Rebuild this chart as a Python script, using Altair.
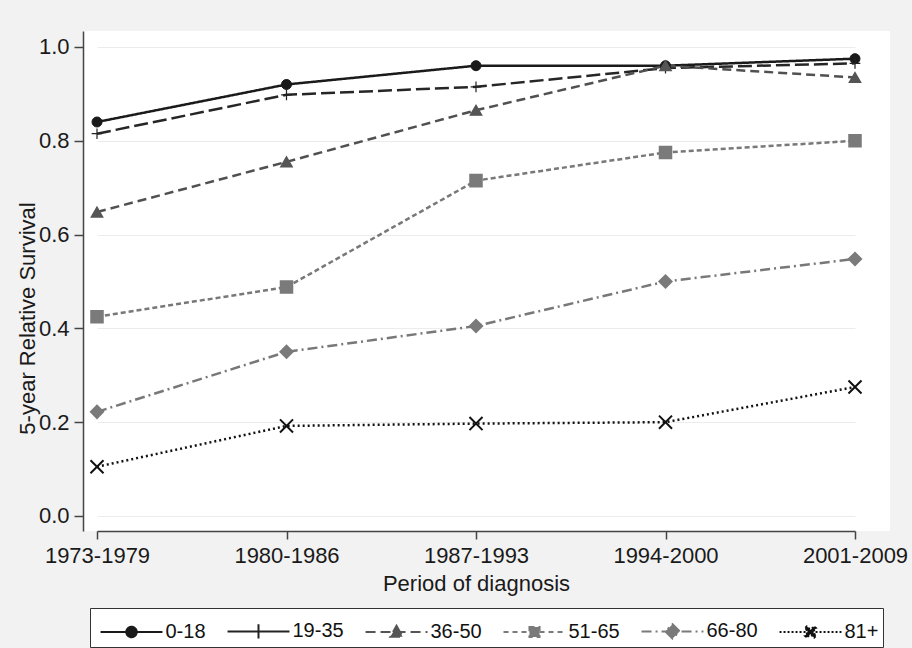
import altair as alt
import pandas as pd

periods = ["1973-1979", "1980-1986", "1987-1993", "1994-2000", "2001-2009"]
groups = ["0-18", "19-35", "36-50", "51-65", "66-80", "81+"]

s_0_18 = [0.840, 0.920, 0.960, 0.960, 0.975]
s_19_35 = [0.815, 0.898, 0.915, 0.955, 0.965]
s_36_50 = [0.648, 0.755, 0.865, 0.960, 0.935]
s_51_65 = [0.425, 0.488, 0.715, 0.775, 0.800]
s_66_80 = [0.222, 0.350, 0.405, 0.500, 0.548]
s_81 = [0.105, 0.192, 0.197, 0.200, 0.275]

series = [s_0_18, s_19_35, s_36_50, s_51_65, s_66_80, s_81]

rows = []
for g, vals in zip(groups, series):
    for p, v in zip(periods, vals):
        rows.append({"period": p, "group": g, "value": v})
df = pd.DataFrame(rows)

FONT = "Liberation Sans"

line_colors = ["#1a1a1a", "#262626", "#505050", "#787878", "#787878", "#111111"]
dashes = [[1, 0], [14, 5], [9, 5], [5, 3], [10, 4, 2, 4], [2, 3]]
shapes = ["circle", "M-1,0H1M0,-1V1", "triangle-up", "square", "diamond",
          "M-1,-1L1,1M-1,1L1,-1"]
fills = ["#1a1a1a", "transparent", "#555555", "#7a7a7a", "#7a7a7a", "transparent"]
strokes = ["#1a1a1a", "#222222", "#555555", "#7a7a7a", "#7a7a7a", "#111111"]
sizes = [100, 170, 120, 130, 190, 70]
swidths = [1, 2, 1, 1, 1, 2.2]

# legend symbol paths: line sample plus marker (unit = 18 px)
L = 1.72
a, d = 0.26, 0.055
xpoly = (f"M{-a+d},{-a-d}L{-a-d},{-a+d}L{a-d},{a+d}L{a+d},{a-d}Z"
         f"M{-a-d},{a-d}L{-a+d},{a+d}L{a+d},{-a+d}L{a-d},{-a-d}Z")
seg = f"M{-L},0H{L}"
leg_paths = [
    seg + "M0.29,0A0.29,0.29,0,1,1,-0.29,0A0.29,0.29,0,1,1,0.29,0Z",
    seg + "M0,-0.4V0.4",
    seg + "M0,-0.34L0.34,0.26L-0.34,0.26Z",
    seg + "M-0.28,-0.28H0.28V0.28H-0.28Z",
    seg + "M0,-0.4L0.4,0L0,0.4L-0.4,0Z",
    seg + xpoly,
]
leg_fills = ["#1a1a1a", "#222222", "#555555", "#7a7a7a", "#7a7a7a", "#111111"]
leg_dashes = [[1, 0], [1, 0], [10, 5], [5, 4], [10, 4, 2, 4], [2, 2]]

legend = alt.Legend(
    title=None,
    orient="none",
    legendX=7,
    legendY=577,
    direction="horizontal",
    columns=6,
    symbolSize=1296,
    symbolOffset=18.5,
    symbolStrokeWidth=2,
    labelFontSize=20,
    labelFont=FONT,
    labelColor="#111111",
    labelOffset=15,
    columnPadding=15,
    padding=4,
    strokeColor="#333333",
    fillColor="white",
)

x_enc = alt.X(
    "period:O",
    sort=periods,
    scale=alt.Scale(type="point", range=[14, 772], padding=0),
    axis=alt.Axis(
        title="Period of diagnosis",
        labelAngle=0,
        labelFontSize=22,
        labelFont=FONT,
        labelBaseline="top",
        labelPadding=6,
        tickSize=8,
        titleFontSize=22,
        titleFont=FONT,
        titleFontWeight="normal",
        titleBaseline="alphabetic",
        titleY=59,
        grid=False,
    ),
)
y_enc = alt.Y(
    "value:Q",
    scale=alt.Scale(domain=[-0.032, 1.034], nice=False, zero=False),
    axis=alt.Axis(
        title="5-year Relative Survival",
        values=[0, 0.2, 0.4, 0.6, 0.8, 1.0],
        format=".1f",
        labelFontSize=22,
        labelFont=FONT,
        labelPadding=5,
        tickSize=9,
        titleFontSize=22,
        titleFont=FONT,
        titleFontWeight="normal",
        titleBaseline="middle",
        titleX=-56,
        titleY=287,
        grid=True,
        gridColor="#ececec",
        gridWidth=1,
    ),
)

lines = alt.Chart(df).mark_line(strokeWidth=2.5, strokeCap="butt").encode(
    x=x_enc,
    y=y_enc,
    color=alt.Color("group:N", sort=groups,
                    scale=alt.Scale(domain=groups, range=line_colors),
                    legend=None),
    strokeDash=alt.StrokeDash("group:N", sort=groups,
                              scale=alt.Scale(domain=groups, range=dashes),
                              legend=None),
    detail="group:N",
)

points = alt.Chart(df).mark_point(opacity=1).encode(
    x=x_enc,
    y=y_enc,
    shape=alt.Shape("group:N", scale=alt.Scale(domain=groups, range=shapes), legend=None),
    fill=alt.Fill("group:N", scale=alt.Scale(domain=groups, range=fills), legend=None),
    stroke=alt.Stroke("group:N", scale=alt.Scale(domain=groups, range=strokes), legend=None),
    size=alt.Size("group:N", scale=alt.Scale(domain=groups, range=sizes), legend=None),
    strokeWidth=alt.StrokeWidth("group:N", scale=alt.Scale(domain=groups, range=swidths), legend=None),
)

# legend-only layer (no marks drawn): line sample + marker per group
legend_layer = alt.Chart(df).mark_point(opacity=1, strokeWidth=2).encode(
    x=x_enc,
    y=y_enc,
    shape=alt.Shape("group:N", scale=alt.Scale(domain=groups, range=leg_paths), legend=legend),
    fill=alt.Fill("group:N", scale=alt.Scale(domain=groups, range=leg_fills), legend=legend),
    stroke=alt.Stroke("group:N", scale=alt.Scale(domain=groups, range=strokes), legend=legend),
    strokeDash=alt.StrokeDash("group:N", scale=alt.Scale(domain=groups, range=leg_dashes), legend=legend),
).transform_filter("false")

chart = alt.layer(lines, points, legend_layer).resolve_scale(
    fill="independent", stroke="independent", shape="independent",
    strokeDash="independent", size="independent", strokeWidth="independent",
).properties(
    width=807,
    height=500,
    autosize=alt.AutoSizeParams(type="none"),
    padding={"left": 83, "top": 31, "right": 22, "bottom": 117},
    background="#f2f2f2",
).configure_view(
    fill="white", stroke=None
).configure_axis(
    domainColor="#444444",
    domainWidth=1.5,
    tickColor="#444444",
    tickWidth=1.5,
    labelColor="#1a1a1a",
    titleColor="#1a1a1a",
)

chart.save("out.html", embed_options={"renderer": "svg", "actions": False})
